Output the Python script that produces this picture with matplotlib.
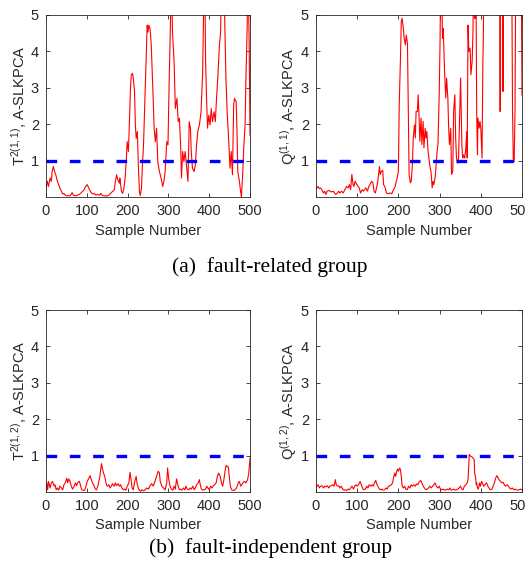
import matplotlib
matplotlib.use("Agg")
import matplotlib.pyplot as plt

plt.rcParams['font.family'] = ['Liberation Sans', 'DejaVu Sans']
plt.rcParams['mathtext.default'] = 'regular'

# ---- data (sample number, statistic / control limit) ----
# values above 5 are off the top of the axes, only their direction is known
t2_11_x = [0, 2, 3, 6, 10, 13, 15, 18, 21, 24, 28, 31, 34, 38, 41, 44, 47, 51, 54, 59,
           64, 67, 72, 77, 81, 85, 89, 93, 97, 101, 105, 109, 114, 118, 122, 126, 131, 134, 138, 142,
           150, 154, 158, 163, 167, 170, 173, 176, 180, 181, 185, 188, 191, 194, 197, 199, 202, 204, 207, 209,
           212, 214, 217, 219, 221, 224, 226, 229, 231, 234, 236, 239, 241, 244, 246, 248, 250, 252, 255, 258,
           261, 263, 265, 268, 271, 274, 278, 282, 286, 289, 292, 296, 299, 302, 305, 307, 310, 314, 317, 321,
           324, 327, 330, 332, 335, 338, 341, 345, 348, 351, 354, 356, 359, 363, 366, 369, 372, 376, 380, 384,
           386, 389, 391, 394, 396, 399, 402, 405, 408, 412, 415, 418, 421, 425, 428, 431, 435, 438, 441, 444,
           448, 451, 454, 457, 460, 462, 466, 468, 470, 474, 477, 479, 482, 485, 488, 490, 493, 495, 498, 500]
t2_11_y = [0.20, 0.38, 0.43, 0.29, 0.52, 0.43, 0.70, 0.84, 0.70, 0.61, 0.43, 0.34, 0.24, 0.15, 0.08, 0.10, 0.05, 0.03, 0.04, 0.03,
           0.12, 0.05, 0.03, 0.05, 0.07, 0.10, 0.15, 0.19, 0.29, 0.34, 0.24, 0.15, 0.08, 0.10, 0.05, 0.07, 0.05, 0.10, 0.04, 0.03,
           0.03, 0.05, 0.10, 0.15, 0.19, 0.43, 0.61, 0.47, 0.38, 0.52, 0.15, 0.10, 0.24, 0.52, 1.06, 1.52, 1.25, 1.89, 2.99, 3.35,
           3.40, 3.26, 2.90, 1.98, 1.61, 1.80, 0.97, 0.15, 0.04, 0.24, 0.79, 1.43, 2.16, 3.26, 3.89, 4.72, 4.53, 4.72, 4.62, 4.17,
           3.26, 2.60, 1.89, 1.52, 1.89, 0.97, 0.70, 0.52, 0.29, 0.43, 0.70, 1.52, 1.43, 3.26, 4.72, 6.50, 4.53, 3.71, 2.43, 2.71,
           2.07, 2.16, 1.43, 0.52, 1.25, 0.97, 1.25, 0.79, 0.43, 2.07, 1.89, 1.25, 0.79, 0.70, 0.88, 1.43, 1.80, 1.98, 2.34, 3.44,
           4.90, 6.50, 3.80, 2.53, 1.89, 2.25, 1.98, 2.43, 2.07, 2.34, 2.07, 2.71, 3.26, 4.17, 4.53, 6.50, 6.50, 4.90, 3.26, 2.34,
           1.52, 0.79, 1.25, 0.61, 2.53, 2.71, 2.62, 1.89, 0.70, 0.43, 0.15, 0.01, 0.61, 1.43, 1.98, 3.26, 4.62, 6.50, 4.17, 1.70]

q_11_x = [0, 2, 5, 8, 11, 14, 18, 21, 24, 27, 31, 34, 38, 42, 45, 48, 52, 55, 58, 62,
          66, 70, 74, 78, 81, 84, 87, 90, 92, 95, 99, 102, 105, 108, 112, 115, 118, 121, 125, 128,
          131, 135, 138, 141, 144, 147, 150, 154, 156, 159, 162, 164, 167, 171, 175, 180, 184, 188, 191, 194,
          197, 200, 202, 205, 207, 209, 212, 214, 217, 219, 222, 224, 226, 229, 231, 234, 236, 239, 241, 243,
          246, 248, 250, 252, 255, 257, 260, 262, 265, 267, 269, 272, 274, 277, 279, 282, 284, 286, 289, 291,
          294, 296, 299, 301, 303, 304, 307, 309, 312, 315, 317, 320, 322, 324, 327, 329, 332, 334, 337, 339,
          341, 344, 346, 349, 351, 354, 356, 358, 361, 363, 366, 367, 369, 371, 374, 376, 379, 381, 383, 386,
          388, 390, 392, 393, 396, 398, 400, 403, 405, 406, 408, 446, 447, 448, 452, 454, 455, 475, 477, 479,
          481, 483, 485, 498, 500]
q_11_y = [0.20, 0.25, 0.29, 0.23, 0.25, 0.20, 0.11, 0.16, 0.07, 0.16, 0.18, 0.16, 0.14, 0.16, 0.11, 0.07, 0.11, 0.16, 0.11, 0.16,
          0.11, 0.20, 0.29, 0.25, 0.34, 0.20, 0.62, 0.34, 0.29, 0.43, 0.34, 0.29, 0.25, 0.11, 0.20, 0.16, 0.20, 0.25, 0.16, 0.29,
          0.34, 0.43, 0.39, 0.16, 0.11, 0.25, 0.43, 0.84, 0.62, 0.71, 0.73, 0.34, 0.29, 0.11, 0.09, 0.11, 0.09, 0.20, 0.25, 0.39,
          0.52, 0.71, 2.53, 3.81, 4.82, 4.91, 4.63, 4.36, 4.18, 4.45, 4.22, 2.35, 0.62, 0.39, 0.43, 0.89, 1.62, 1.98, 1.62, 2.35,
          2.35, 2.81, 2.26, 1.53, 2.17, 1.44, 2.08, 1.35, 1.89, 1.62, 1.80, 1.26, 1.07, 0.80, 0.71, 0.25, 0.43, 0.34, 0.52, 0.80,
          1.26, 1.44, 2.81, 4.18, 6.50, 6.50, 4.36, 4.63, 3.45, 2.72, 3.27, 2.72, 1.89, 1.44, 1.89, 0.62, 0.71, 2.35, 2.81, 1.62,
          1.07, 0.93, 1.07, 2.35, 3.27, 1.44, 1.07, 1.16, 1.07, 1.26, 1.80, 1.07, 4.72, 4.00, 4.09, 3.36, 3.72, 4.54, 6.50, 4.90,
          6.50, 2.35, 1.16, 2.17, 1.89, 2.08, 1.89, 1.07, 3.72, 4.27, 6.50, 6.50, 2.35, 6.50, 6.50, 2.90, 6.50, 6.50, 2.35, 0.95,
          0.98, 2.35, 6.50, 6.50, 2.80]

t2_12_x = [0, 2, 4, 6, 10, 13, 16, 20, 22, 25, 28, 31, 34, 38, 41, 44, 47, 51, 53, 56,
           59, 62, 65, 69, 72, 75, 78, 82, 85, 88, 92, 95, 98, 101, 105, 108, 111, 114, 118, 121,
           124, 128, 132, 136, 138, 141, 144, 147, 150, 154, 157, 160, 163, 167, 170, 173, 177, 180, 183, 186,
           190, 193, 196, 199, 203, 206, 208, 211, 214, 217, 221, 223, 226, 229, 232, 235, 239, 243, 247, 251,
           255, 259, 263, 267, 271, 275, 278, 280, 284, 288, 292, 296, 298, 301, 304, 307, 311, 314, 317, 320,
           324, 327, 330, 333, 337, 340, 343, 346, 350, 353, 356, 360, 363, 366, 369, 373, 376, 378, 381, 384,
           387, 391, 394, 397, 400, 404, 407, 410, 413, 417, 420, 423, 427, 430, 433, 436, 440, 442, 444, 447,
           449, 452, 455, 459, 463, 467, 471, 474, 477, 480, 484, 487, 490, 494, 497, 500]
t2_12_y = [0.10, 0.25, 0.06, 0.29, 0.11, 0.25, 0.29, 0.16, 0.20, 0.06, 0.11, 0.05, 0.16, 0.11, 0.06, 0.20, 0.25, 0.38, 0.25, 0.36,
           0.29, 0.16, 0.08, 0.16, 0.25, 0.17, 0.27, 0.29, 0.16, 0.06, 0.04, 0.06, 0.16, 0.29, 0.38, 0.45, 0.34, 0.25, 0.17, 0.08,
           0.06, 0.20, 0.43, 0.78, 0.66, 0.52, 0.43, 0.25, 0.16, 0.20, 0.11, 0.16, 0.23, 0.16, 0.25, 0.17, 0.23, 0.16, 0.20, 0.11,
           0.06, 0.08, 0.05, 0.16, 0.25, 0.54, 0.38, 0.11, 0.06, 0.27, 0.43, 0.25, 0.11, 0.05, 0.02, 0.06, 0.03, 0.06, 0.11, 0.08,
           0.17, 0.23, 0.16, 0.29, 0.43, 0.57, 0.52, 0.29, 0.16, 0.11, 0.06, 0.25, 0.66, 0.34, 0.16, 0.08, 0.05, 0.16, 0.08, 0.36,
           0.16, 0.06, 0.08, 0.05, 0.11, 0.06, 0.16, 0.08, 0.06, 0.11, 0.08, 0.16, 0.06, 0.11, 0.20, 0.25, 0.34, 0.20, 0.08, 0.05,
           0.06, 0.08, 0.16, 0.11, 0.06, 0.16, 0.11, 0.17, 0.20, 0.25, 0.43, 0.52, 0.43, 0.25, 0.16, 0.34, 0.66, 0.73, 0.70, 0.68,
           0.43, 0.16, 0.06, 0.04, 0.06, 0.11, 0.25, 0.29, 0.16, 0.20, 0.27, 0.29, 0.25, 0.34, 0.52, 0.93]

q_12_x = [0, 2, 5, 8, 11, 15, 18, 21, 24, 28, 31, 34, 37, 40, 44, 47, 49, 52, 55, 58,
          61, 65, 68, 71, 74, 78, 81, 84, 87, 91, 94, 97, 100, 103, 107, 110, 113, 116, 120, 123,
          126, 129, 133, 136, 139, 142, 145, 148, 150, 154, 157, 160, 163, 166, 170, 173, 176, 179, 183, 186,
          188, 191, 193, 196, 198, 200, 203, 205, 207, 209, 212, 215, 218, 221, 225, 228, 231, 234, 238, 241,
          244, 247, 250, 254, 257, 260, 263, 267, 270, 273, 276, 280, 283, 286, 289, 292, 296, 299, 302, 305,
          309, 312, 315, 318, 322, 325, 328, 331, 334, 338, 341, 344, 347, 351, 354, 357, 360, 364, 367, 369,
          372, 374, 376, 379, 381, 384, 385, 387, 389, 390, 392, 394, 397, 399, 402, 404, 407, 410, 414, 417,
          420, 423, 427, 430, 433, 436, 439, 442, 444, 448, 451, 454, 457, 460, 464, 467, 470, 473, 477, 480,
          483, 486, 490, 493, 496, 500]
q_12_y = [0.12, 0.16, 0.20, 0.11, 0.16, 0.17, 0.11, 0.16, 0.14, 0.17, 0.11, 0.16, 0.17, 0.20, 0.16, 0.34, 0.20, 0.16, 0.17, 0.11,
          0.16, 0.08, 0.05, 0.06, 0.04, 0.08, 0.06, 0.11, 0.16, 0.08, 0.16, 0.20, 0.16, 0.20, 0.29, 0.20, 0.11, 0.06, 0.08, 0.16,
          0.11, 0.20, 0.16, 0.20, 0.16, 0.25, 0.32, 0.20, 0.16, 0.08, 0.06, 0.08, 0.05, 0.06, 0.11, 0.08, 0.16, 0.17, 0.20, 0.25,
          0.38, 0.52, 0.43, 0.57, 0.63, 0.57, 0.66, 0.61, 0.43, 0.16, 0.11, 0.16, 0.08, 0.06, 0.16, 0.11, 0.20, 0.16, 0.20, 0.16,
          0.22, 0.20, 0.27, 0.32, 0.25, 0.17, 0.11, 0.06, 0.08, 0.11, 0.16, 0.11, 0.16, 0.20, 0.25, 0.16, 0.11, 0.16, 0.08, 0.06,
          0.08, 0.05, 0.06, 0.08, 0.06, 0.11, 0.05, 0.06, 0.08, 0.05, 0.06, 0.08, 0.11, 0.16, 0.08, 0.06, 0.16, 0.20, 0.25, 0.34,
          1.03, 1.00, 0.98, 0.96, 0.93, 0.89, 0.52, 0.43, 0.20, 0.25, 0.11, 0.08, 0.25, 0.16, 0.29, 0.25, 0.16, 0.20, 0.25, 0.16,
          0.11, 0.06, 0.08, 0.16, 0.25, 0.38, 0.45, 0.38, 0.34, 0.29, 0.25, 0.27, 0.20, 0.16, 0.20, 0.16, 0.11, 0.08, 0.11, 0.06,
          0.08, 0.06, 0.05, 0.06, 0.08, 0.06]

limit_x = [0, 500]
limit_y = [1.0, 1.0]

panels = [
    (t2_11_x, t2_11_y, r'$T^{2(1,1)}$, A-SLKPCA'),
    (q_11_x, q_11_y, r'$Q^{(1,1)}$, A-SLKPCA'),
    (t2_12_x, t2_12_y, r'$T^{2(1,2)}$, A-SLKPCA'),
    (q_12_x, q_12_y, r'$Q^{(1,2)}$, A-SLKPCA'),
]
captions = ['(a)  fault-related group', '(b)  fault-independent group']

W, H = 525, 572
fig = plt.figure(figsize=(W / 100, H / 100), dpi=100)

# axes boxes in pixels: left, top, width, height
# (the right column runs to the figure edge, so its "500" label is cut like in the original)
boxes = [(46, 15, 204, 182), (316, 15, 206, 182),
         (46, 310, 204, 182), (316, 310, 206, 182)]

dark = '#262626'
for (xs, ys, label), (l, t, w, h) in zip(panels, boxes):
    ax = fig.add_axes([l / W, 1 - (t + h) / H, w / W, h / H])
    ax.plot(xs, ys, color='red', lw=0.8)
    ax.plot(limit_x, limit_y, color='blue', lw=2.4, dashes=(3.2, 3.8))
    ax.set_xlim(0, 500)
    ax.set_ylim(0, 5)
    ax.set_xticks([0, 100, 200, 300, 400, 500])
    ax.set_yticks([1, 2, 3, 4, 5])
    ax.tick_params(direction='in', top=True, right=True, length=3, width=0.6,
                   color=dark, labelcolor=dark, labelsize=10.5, pad=5)
    for sp in ax.spines.values():
        sp.set_color(dark)
        sp.set_linewidth(0.6)
    ax.set_xlabel('Sample Number', fontsize=10.5, color=dark, labelpad=4)
    ax.set_ylabel(label, fontsize=10.5, color=dark)
    ax.yaxis.set_label_coords(-0.082, 0.5)

fig.text(270 / W, 1 - 267 / H, captions[0], family='Liberation Serif',
         fontsize=15.5, ha='center', va='center', color='black')
fig.text(271 / W, 1 - 548 / H, captions[1], family='Liberation Serif',
         fontsize=15.5, ha='center', va='center', color='black')

fig.savefig('out.png', dpi=100)
